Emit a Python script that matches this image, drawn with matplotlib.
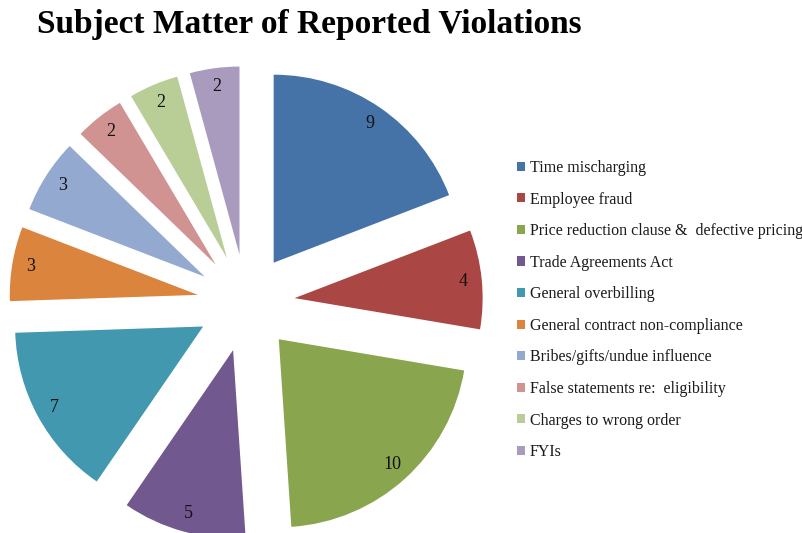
import matplotlib.pyplot as plt
from matplotlib.patches import Patch

categories = [
    "Time mischarging",
    "Employee fraud",
    "Price reduction clause &  defective pricing",
    "Trade Agreements Act",
    "General overbilling",
    "General contract non-compliance",
    "Bribes/gifts/undue influence",
    "False statements re:  eligibility",
    "Charges to wrong order",
    "FYIs",
]
counts = [9, 4, 10, 5, 7, 3, 3, 2, 2, 2]
colors = ["#4572A7", "#AA4643", "#89A54E", "#71588F", "#4198AF",
          "#DB843D", "#93A9CF", "#D19392", "#B9CD96", "#A99BBD"]

W, H = 803, 533
cx, cy, r = 246, 303, 188   # pie centre / radius in pixels

fig = plt.figure(figsize=(W / 100, H / 100), dpi=100)
ax = fig.add_axes([0, 0, 1, 1])

wedges, texts = ax.pie(
    counts, colors=colors, startangle=90, counterclock=False,
    explode=[0.26] * len(counts), radius=1,
    labels=[str(c) for c in counts], labeldistance=0.9,
    textprops=dict(family="Liberation Serif", fontsize=13, color="#111111"),
    wedgeprops=dict(linewidth=0),
)
for t in texts:
    t.set_ha("center")
    t.set_va("center")

ax.set_xlim(-cx / r, (W - cx) / r)
ax.set_ylim((cy - H) / r, cy / r)
ax.axis("off")

fig.text(37 / W, 1 - 25 / H, "Subject Matter of Reported Violations",
         family="Liberation Serif", fontweight="bold", fontsize=24,
         va="center", ha="left", color="black")

handles = [Patch(facecolor=c, edgecolor="none") for c in colors]
leg = fig.legend(handles, categories, loc="upper left",
                 bbox_to_anchor=(517 / W, 1 - 160 / H),
                 frameon=False, handlelength=0.5, handleheight=0.5,
                 handletextpad=0.3, labelspacing=0.975, borderaxespad=0,
                 borderpad=0,
                 prop=dict(family="Liberation Serif", size=11.5))
for t in leg.get_texts():
    t.set_color("#1a1a1a")

fig.savefig("out.png", dpi=100)
